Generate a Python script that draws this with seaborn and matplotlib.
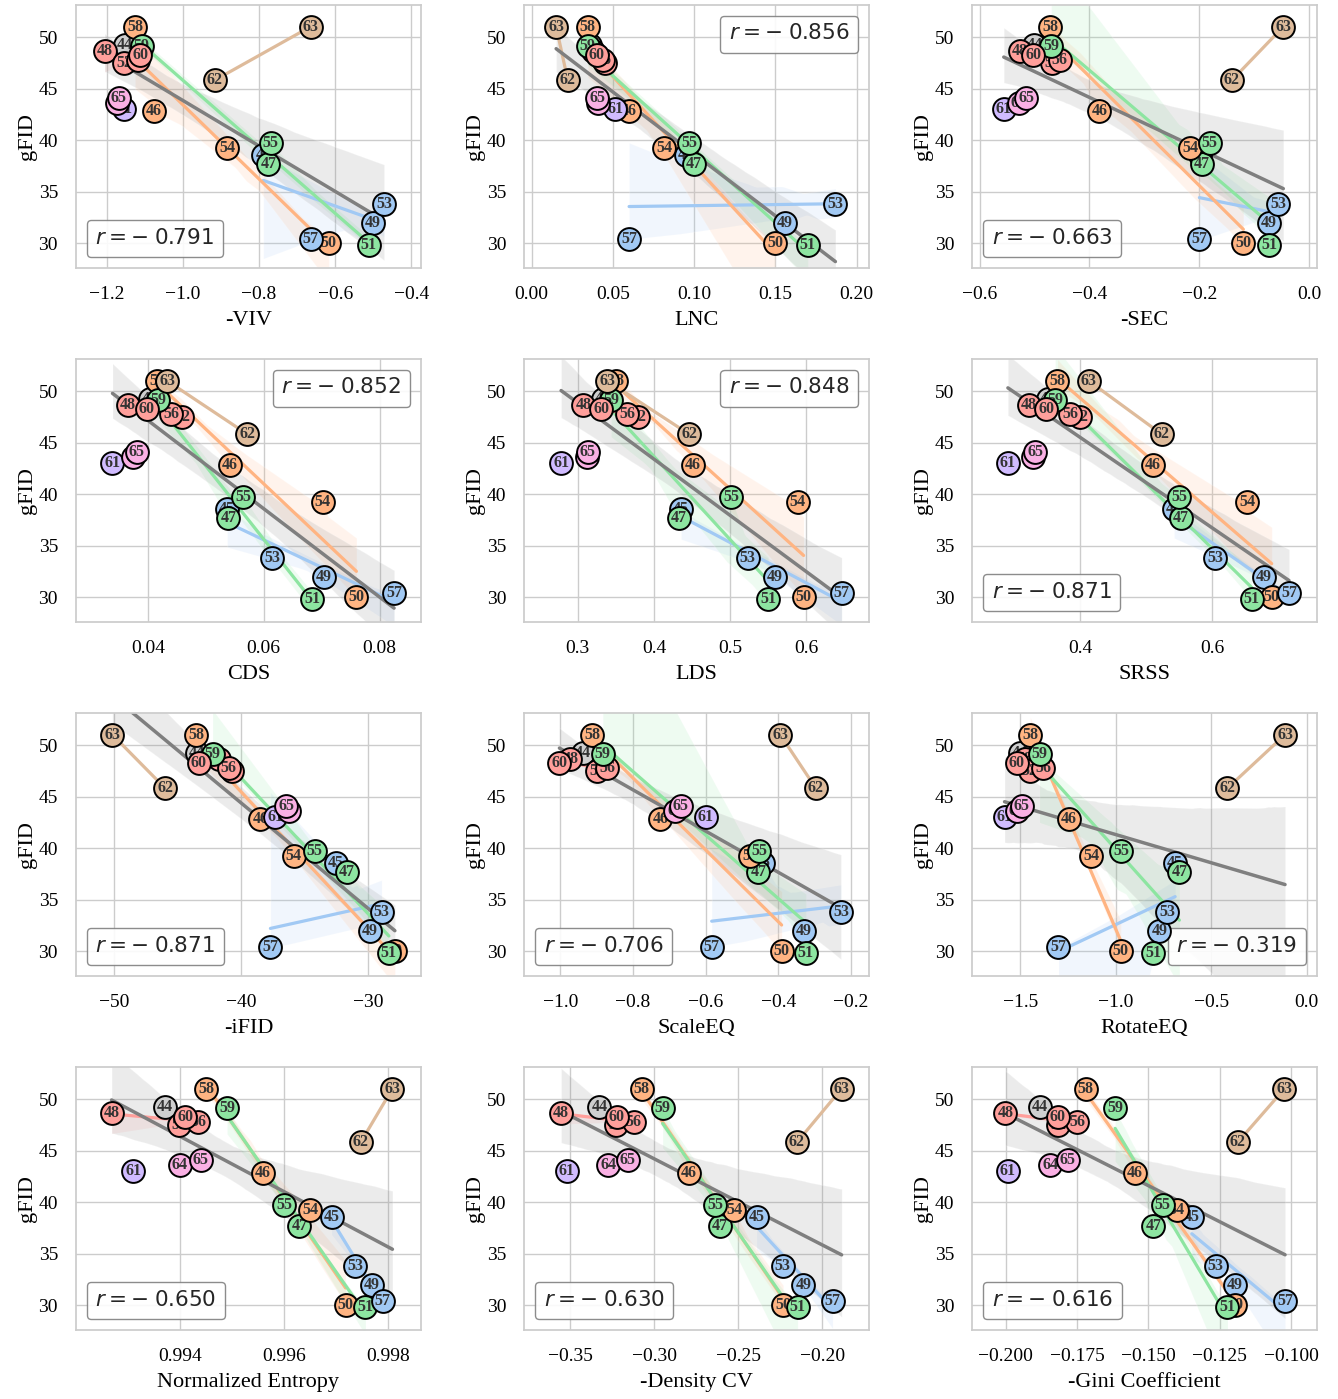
import matplotlib
matplotlib.use("Agg")
import matplotlib.pyplot as plt
import pandas as pd
import seaborn as sns
from matplotlib.lines import Line2D

# model ids and their gFID (shared y values in every panel)
ids = list(range(44, 66))
gfid = [49.2, 38.6, 42.8, 37.7, 48.6, 32.0, 30.0, 29.8, 47.5, 33.8, 39.2,
        39.7, 47.8, 30.4, 51.0, 49.1, 48.3, 43.0, 45.8, 51.0, 43.6, 44.1]
group = ["gray", "blue", "orange", "green", "red", "blue", "orange", "green",
         "red", "blue", "orange", "green", "red", "blue", "orange", "green",
         "red", "purple", "brown", "brown", "pink", "pink"]

# x values per metric, same order as ids
viv = [-1.152, -0.789, -1.076, -0.776, -1.206, -0.501, -0.617, -0.512, -1.154, -0.472, -0.884,
       -0.770, -1.117, -0.665, -1.126, -1.108, -1.112, -1.154, -0.917, -0.665, -1.174, -1.169]
lnc = [0.036, 0.095, 0.060, 0.0998, 0.038, 0.156, 0.150, 0.170, 0.045, 0.187, 0.0817,
       0.097, 0.044, 0.060, 0.0346, 0.0346, 0.040, 0.0514, 0.0223, 0.0151, 0.0408, 0.0403]
sec = [-0.5005, -0.199, -0.382, -0.196, -0.527, -0.0733, -0.120, -0.0733, -0.468, -0.0564, -0.217,
       -0.181, -0.4545, -0.200, -0.4715, -0.4696, -0.502, -0.556, -0.141, -0.0473, -0.529, -0.515]
cds = [0.0404, 0.0537, 0.0541, 0.0539, 0.0365, 0.0704, 0.0760, 0.0684, 0.0459, 0.0614, 0.0702,
       0.0565, 0.0440, 0.0825, 0.0416, 0.0418, 0.0398, 0.0339, 0.0572, 0.0433, 0.0375, 0.0381]
lds = [0.3328, 0.4354, 0.4507, 0.4324, 0.3074, 0.559, 0.5962, 0.5498, 0.3795, 0.5228, 0.5883,
       0.5009, 0.3646, 0.646, 0.350, 0.3436, 0.3305, 0.2781, 0.4463, 0.3384, 0.3122, 0.3131]
srss = [0.3506, 0.542, 0.5098, 0.5526, 0.3219, 0.678, 0.6897, 0.6594, 0.400, 0.604, 0.6528,
        0.5501, 0.3849, 0.7159, 0.3657, 0.3622, 0.3486, 0.2907, 0.5235, 0.4126, 0.3294, 0.332]
ifid = [-43.49, -32.55, -38.48, -31.68, -41.78, -29.84, -27.87, -28.34, -40.72, -28.92, -35.85,
        -34.21, -40.99, -37.69, -43.57, -42.25, -43.36, -37.30, -45.99, -50.16, -36.25, -36.45]
scaleeq = [-0.9384, -0.4429, -0.7248, -0.455, -0.9725, -0.33, -0.3906, -0.3237, -0.899, -0.2274, -0.477,
           -0.4522, -0.8715, -0.5833, -0.9127, -0.8833, -1.0028, -0.599, -0.2962, -0.3944, -0.6843, -0.668]
rotateeq = [-1.5, -0.689, -1.2437, -0.667, -1.474, -0.7714, -0.9734, -0.803, -1.451, -0.7296, -1.130,
            -0.972, -1.381, -1.2997, -1.4477, -1.399, -1.517, -1.582, -0.4158, -0.114, -1.517, -1.491]
entropy = [0.99370, 0.99691, 0.99559, 0.99629, 0.99268, 0.99769, 0.99718, 0.99756, 0.99398, 0.99737, 0.99650,
           0.99600, 0.99435, 0.99789, 0.99450, 0.99490, 0.99410, 0.99310, 0.99747, 0.99808, 0.99399, 0.99439]
density_cv = [-0.3328, -0.2392, -0.2793, -0.261, -0.3555, -0.2113, -0.2234, -0.2148, -0.3228, -0.2237, -0.2525,
              -0.264, -0.3123, -0.194, -0.3076, -0.2951, -0.3224, -0.352, -0.2152, -0.1886, -0.3274, -0.3159]
gini = [-0.188, -0.1348, -0.1549, -0.1483, -0.2002, -0.1196, -0.1196, -0.1223, -0.1816, -0.1264, -0.1401,
        -0.145, -0.1749, -0.1021, -0.172, -0.1617, -0.1819, -0.1994, -0.1187, -0.1023, -0.1845, -0.1783]

metric_labels = ["-VIV", "LNC", "-SEC", "CDS", "LDS", "SRSS", "-iFID", "ScaleEQ", "RotateEQ",
                 "Normalized Entropy", "-Density CV", "-Gini Coefficient"]
r_values = [-0.791, -0.856, -0.663, -0.852, -0.848, -0.871, -0.871, -0.706, -0.319, -0.650, -0.630, -0.616]
y_ticks = [30, 35, 40, 45, 50]
x_ticks = [[-1.2, -1.0, -0.8, -0.6, -0.4], [0.0, 0.05, 0.10, 0.15, 0.20], [-0.6, -0.4, -0.2, 0.0],
           [0.04, 0.06, 0.08], [0.3, 0.4, 0.5, 0.6], [0.4, 0.6], [-50, -40, -30],
           [-1.0, -0.8, -0.6, -0.4, -0.2], [-1.5, -1.0, -0.5, 0.0], [0.994, 0.996, 0.998],
           [-0.35, -0.30, -0.25, -0.20], [-0.200, -0.175, -0.150, -0.125, -0.100]]

# layout-only settings
x_lims = [(-1.281, -0.3755), (-0.0046, 0.2076), (-0.6133, 0.014), (0.0276, 0.0871),
          (0.2296, 0.6818), (0.2368, 0.7582), (-53.03, -25.83), (-1.10, -0.1503),
          (-1.751, 0.0533), (0.991996, 0.998624), (-0.3775, -0.1724), (-0.2118, -0.0909)]
r_locs = ["lower left", "upper right", "lower left", "upper right", "upper right", "lower left",
          "lower left", "lower left", "lower right", "lower left", "lower left", "lower left"]

pastel = sns.color_palette("pastel")
colors = {"blue": pastel[0], "orange": pastel[1], "green": pastel[2], "red": pastel[3],
          "purple": pastel[4], "brown": pastel[5], "pink": pastel[6], "gray": pastel[7]}

sns.set_theme(style="whitegrid")
plt.rcParams["font.family"] = "serif"
plt.rcParams["font.serif"] = ["Liberation Serif", "DejaVu Serif"]
plt.rcParams["mathtext.fontset"] = "dejavusans"
plt.rcParams["axes.labelcolor"] = "black"
plt.rcParams["xtick.color"] = "black"
plt.rcParams["ytick.color"] = "black"

fig, axes = plt.subplots(4, 3, figsize=(13.38, 13.99), dpi=100)
fig.subplots_adjust(left=0.0568, right=0.9843, bottom=0.0493, top=0.9964, wspace=0.30, hspace=0.346)

all_x = [viv, lnc, sec, cds, lds, srss, ifid, scaleeq, rotateeq, entropy, density_cv, gini]
base = pd.DataFrame({"id": ids, "gfid": gfid, "group": group})

for k, ax in enumerate(axes.flat):
    df = base.assign(x=all_x[k])

    # per-group fits
    for g in ["blue", "orange", "green", "red", "brown", "pink"]:
        sub = df[df.group == g]
        sns.regplot(data=sub, x="x", y="gfid", ax=ax, scatter=False, color=colors[g],
                    ci=68 if len(sub) > 2 else None, seed=0, truncate=True,
                    line_kws={"lw": 2.3})
    # overall fit
    sns.regplot(data=df, x="x", y="gfid", ax=ax, scatter=False, color="#7f7f7f",
                seed=0, truncate=True, line_kws={"lw": 2.5})

    for i in range(len(df)):
        row = df.iloc[i]
        ax.scatter(row["x"], row["gfid"], s=270, color=colors[row["group"]],
                   edgecolor="black", linewidth=1.4, zorder=6 + 2 * i)
        ax.text(row["x"], row["gfid"], str(int(row["id"])), ha="center", va="center",
                fontsize=11.5, fontweight="bold", color="#333333", zorder=7 + 2 * i)

    r_txt = f"{r_values[k]:.3f}".replace("-", r"-\;")
    ax.legend([Line2D([], [], linestyle="none")], [f"$r = {r_txt}$"],
              loc=r_locs[k], handlelength=0, handletextpad=0, fontsize=15.5,
              edgecolor="gray", framealpha=0.9, borderpad=0.4)

    ax.set_xlim(x_lims[k])
    ax.set_ylim(27.6, 53.1)
    ax.set_xticks(x_ticks[k])
    ax.set_yticks(y_ticks)
    ax.tick_params(labelsize=14, pad=7)
    ax.set_xlabel(metric_labels[k], fontsize=16, labelpad=6)
    ax.set_ylabel("gFID", fontsize=16, labelpad=1)

plt.savefig("out.png", dpi=100)
